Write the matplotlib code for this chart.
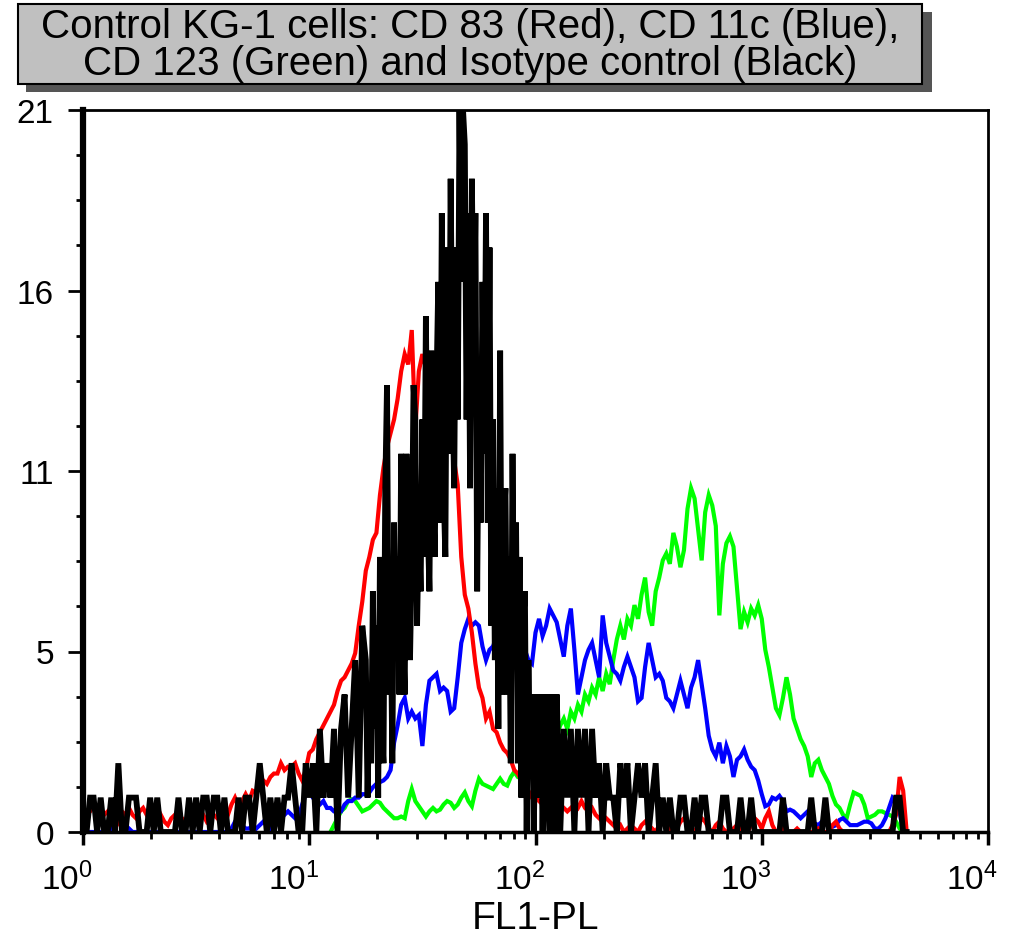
import matplotlib
matplotlib.use("Agg")
import matplotlib.pyplot as plt
import matplotlib.transforms as mtransforms
from matplotlib.patches import Rectangle
import numpy as np

plt.rcParams["font.family"] = ["Liberation Sans", "DejaVu Sans"]
plt.rcParams["mathtext.fontset"] = "custom"
plt.rcParams["mathtext.rm"] = "Liberation Sans"
plt.rcParams["mathtext.it"] = "Liberation Sans:italic"

# FL1 histogram channels: 64 channels per decade, counts per channel
CHANNELS_PER_DECADE = 64

red_cd83 = [
    0.3, 0.5, 0.6, 0.8, 0.6, 0.7, 0.5, 0.6, 0.4, 0.5,
    0.3, 0.6, 0.5, 0.7, 0.5, 0.4, 0.6, 0.7, 0.5, 0.7,
    0.4, 0.3, 0.5, 0.3, 0.2, 0.4, 0.5, 0.3, 0.4, 0.3,
    0.3, 0.2, 0.4, 0.3, 0.5, 0.3, 0.4, 0.5, 0.4, 0.6,
    0.7, 0.5, 0.8, 1.0, 0.75, 0.9, 1.1, 0.9, 1.2, 1.15,
    1.3, 1.5, 1.4, 1.6, 1.7, 1.7, 2.0, 1.8, 1.9, 1.9,
    2.0, 1.7, 1.5, 1.8, 2.3, 2.4, 2.7, 2.9, 3.1, 3.3,
    3.5, 3.7, 4.1, 4.4, 4.5, 4.7, 4.9, 5.2, 6.0, 6.7,
    7.6, 8.0, 8.5, 8.7, 9.8, 10.6, 11.2, 11.6, 12.0, 12.6,
    13.4, 13.9, 13.6, 14.6, 11.7, 13.4, 13.9, 13.5, 13.0, 13.3,
    12.6, 12.4, 12.0, 11.8, 11.4, 10.8, 10.1, 8.0, 6.9, 6.5,
    5.8, 4.9, 4.2, 3.9, 3.3, 3.5, 3.0, 2.9, 2.6, 2.4,
    2.3, 2.1, 1.8, 1.7, 1.5, 1.4, 1.2, 1.0, 1.0, 0.9,
    0.8, 0.75, 0.7, 0.6, 0.7, 0.8, 0.7, 0.6, 0.7, 0.8,
    0.7, 0.9, 0.7, 0.6, 0.7, 0.5, 0.4, 0.3, 0.4, 0.3,
    0.2, 0.1, 0.2, 0.0, 0.1, 0.2, 0.1, 0.0, 0.2, 0.3,
    0.2, 0.1, 0.0, 0.2, 0.3, 0.2, 0.1, 0.0, 0.1, 0.3,
    0.4, 0.2, 0.1, 0.0, 0.2, 0.4, 0.3, 0.1, 0.0, 0.2,
    0.3, 0.1, 0.0, 0.0, 0.1, 0.2, 0.1, 0.0, 0.0, 0.2,
    0.4, 0.3, 0.1, 0.4, 0.6, 0.2, 0.0, 0.0, 0.1, 0.0,
    0.0, 0.0, 0.1, 0.0, 0.0, 0.0, 0.0, 0.0, 0.1, 0.0,
    0.0, 0.0, 0.2, 0.3, 0.1, 0.0, 0.0, 0.0, 0.0, 0.0,
    0.0, 0.0, 0.0, 0.0, 0.0, 0.0, 0.0, 0.0, 0.0, 0.2,
    0.5, 1.6, 1.2, 0.0,
]

blue_cd11c = [
    0.0, 0.0, 0.0, 0.0, 0.0, 0.0, 0.0, 0.0, 0.1, 0.3,
    0.4, 0.3, 0.2, 0.1, 0.0, 0.0, 0.0, 0.0, 0.0, 0.0,
    0.0, 0.0, 0.0, 0.0, 0.0, 0.0, 0.0, 0.0, 0.0, 0.0,
    0.0, 0.0, 0.0, 0.0, 0.0, 0.0, 0.0, 0.0, 0.0, 0.0,
    0.0, 0.0, 0.1, 0.3, 0.4, 0.2, 0.1, 0.1, 0.2, 0.1,
    0.2, 0.3, 0.2, 0.1, 0.2, 0.3, 0.4, 0.5, 0.6, 0.5,
    0.4, 0.45, 0.8, 1.1, 1.3, 1.0, 0.9, 0.8, 0.9, 0.7,
    0.7, 0.6, 0.6, 0.6, 0.8, 0.9, 0.9, 1.0, 1.0, 1.1,
    1.1, 1.15, 1.3, 1.4, 1.45, 1.5, 1.6, 1.8, 2.6, 3.1,
    3.7, 3.9, 3.3, 3.5, 3.3, 3.4, 2.5, 3.7, 4.4, 4.5,
    4.6, 4.1, 4.2, 4.1, 3.5, 3.6, 4.5, 5.5, 5.9, 6.2,
    6.0, 6.1, 6.0, 5.4, 5.0, 5.3, 5.4, 5.7, 5.9, 5.5,
    5.2, 5.6, 5.8, 5.4, 5.0, 5.3, 5.0, 4.9, 5.8, 6.2,
    5.7, 6.0, 6.5, 6.3, 6.1, 5.6, 5.1, 6.0, 6.5, 5.3,
    4.0, 4.5, 5.0, 5.3, 5.5, 5.0, 4.5, 6.3, 5.5, 5.1,
    4.7, 4.6, 4.4, 4.8, 5.1, 4.8, 4.5, 3.8, 3.9, 4.8,
    5.5, 5.0, 4.5, 4.6, 4.4, 3.9, 3.8, 3.6, 4.0, 4.4,
    4.0, 3.6, 4.2, 4.5, 5.0, 4.3, 3.6, 2.8, 2.4, 2.2,
    2.6, 2.0, 2.5, 2.2, 1.6, 2.1, 2.2, 2.4, 2.1, 1.9,
    1.8, 1.5, 1.1, 0.75, 0.8, 1.0, 0.95, 1.05, 0.9, 0.6,
    0.65, 0.6, 0.5, 0.4, 0.5, 0.6, 0.35, 0.25, 0.2, 0.3,
    0.25, 0.15, 0.15, 0.2, 0.35, 0.4, 0.3, 0.2, 0.2, 0.2,
    0.25, 0.3, 0.3, 0.25, 0.1, 0.1, 0.2, 0.4, 0.7, 1.0,
    0.9, 0.6, 0.0, 0.0,
]

green_cd123_first_channel = 70
green_cd123 = [
    0.0, 0.2, 0.4, 0.6, 0.7, 0.9, 0.95, 0.9, 0.75, 0.6,
    0.65, 0.7, 0.8, 0.9, 0.85, 0.7, 0.6, 0.5, 0.4, 0.4,
    0.45, 0.4, 0.9, 1.25, 0.9, 0.75, 0.6, 0.45, 0.6, 0.7,
    0.6, 0.65, 0.8, 0.9, 0.85, 0.7, 0.8, 1.0, 1.15, 0.9,
    0.75, 1.2, 1.55, 1.4, 1.35, 1.3, 1.25, 1.4, 1.55, 1.4,
    1.35, 1.6, 1.75, 1.6, 1.55, 1.5, 1.6, 1.7,
    1.8, 1.9, 2.1, 2.3, 2.2, 2.5, 2.8, 3.1, 3.3, 3.0,
    3.5, 3.3, 3.7, 3.5, 4.0, 3.8, 4.2, 4.0, 4.5, 4.1,
    4.6, 4.3, 5.0, 5.6, 6.0, 5.6, 6.2, 6.0, 6.6, 6.2,
    6.9, 7.4, 6.4, 6.0, 7.0, 7.4, 7.9, 8.1, 7.8, 8.7,
    8.3, 7.7, 8.2, 9.4, 10.0, 9.7, 8.8, 7.9, 9.3, 9.8,
    9.5, 8.9, 6.3, 7.8, 8.4, 8.6, 8.3, 7.1, 5.9, 6.4,
    6.1, 6.5, 6.3, 6.6, 6.2, 5.3, 4.8, 4.2, 3.6, 3.4,
    3.9, 4.5, 4.0, 3.3, 3.0, 2.7, 2.5, 2.2, 1.6, 2.0,
    2.1, 1.8, 1.6, 1.4, 1.05, 0.8, 0.7, 0.5, 0.4, 0.8,
    1.15, 1.1, 1.05, 0.8, 0.4, 0.45, 0.5, 0.6, 0.6, 0.55,
    0.5, 0.45, 0.3, 0.1, 0.0,
]

# isotype control: coarse channels below the peak, half-width channels
# (128 per decade) across the peak, coarse channels above it
black_low = [
    0, 0, 1, 1, 0, 1, 0, 0, 1, 0,
    2, 0, 0, 1, 1, 1, 0, 0, 0, 1,
    0, 1, 0, 0, 0, 0, 0, 1, 0, 0,
    1, 0, 1, 0, 1, 1, 0, 1, 1, 0,
    1, 0, 0, 0, 1, 0, 1, 1, 0, 1,
    2, 1, 0, 1, 0, 1, 0, 1, 1, 2,
    1, 0, 0, 2, 1, 2, 0, 3, 1, 2,
    1, 3, 0, 3, 4, 1, 3, 5, 1, 6,
]
black_peak_first_fine_channel = 160
black_peak = [
    5, 1, 4, 2, 7, 3, 6, 1, 8, 3,
    2, 10, 13, 4, 7, 2, 9, 5, 8, 4,
    11, 6, 4, 11, 9, 5, 8, 13, 12, 6,
    9, 7, 12, 8, 15, 9, 7, 14, 10, 8,
    13, 16, 9, 18, 10, 8, 17, 11, 19, 13,
    10, 17, 12, 21, 16, 21, 20, 12, 18, 10,
    19, 14, 18, 7, 13, 9, 16, 11, 18, 9,
    17, 6, 12, 5, 10, 3, 14, 4, 9, 10,
    4, 8, 2, 11, 5, 9, 2, 8, 1, 6,
    7, 0, 5, 2, 4, 0, 3, 4, 1, 4,
    0, 3, 4, 1, 0, 4, 2, 0, 4,
]
black_high_first_channel = 135
black_high = [
    0, 3, 1, 3, 0,
    3, 1, 3, 0, 3, 1, 2, 0, 2, 1,
    1, 0, 2, 1, 2, 0, 1, 2, 1, 2,
    0, 1, 2, 0, 1, 0, 1, 0, 0, 1,
    1, 0, 0, 1, 0, 1, 1, 0, 0, 0,
    0, 1, 1, 0, 0, 0, 1, 0, 0, 1,
    0, 0, 0, 0, 0, 0, 0, 0, 1, 0,
    0, 0, 0, 0, 0, 0, 1, 0, 0, 0,
    1, 0, 0, 0, 0, 0, 0, 0, 0, 0,
    0, 0, 0, 0, 0, 0, 0, 0, 0, 0,
    1, 1, 0, 0,
]

y_ticks = [0, 5.25, 10.5, 15.75, 21]
y_tick_labels = ["0", "5", "11", "16", "21"]
x_decades = [0, 1, 2, 3, 4]
title_lines = [
    "Control KG-1 cells: CD 83 (Red), CD 11c (Blue),",
    "CD 123 (Green) and Isotype control (Black)",
]

W, H = 1009, 937


def fluorescence(counts, first_channel=0, per_decade=CHANNELS_PER_DECADE):
    channels = np.arange(first_channel, first_channel + len(counts))
    return 10.0 ** (channels / per_decade), np.asarray(counts, dtype=float)


def fig_xy(x, y):
    return x / W, 1 - y / H


parts = [
    fluorescence(black_low),
    fluorescence(black_peak, black_peak_first_fine_channel, 2 * CHANNELS_PER_DECADE),
    fluorescence(black_high, black_high_first_channel),
]
black_x = np.concatenate([p[0] for p in parts])
black_y = np.concatenate([p[1] for p in parts])

fig = plt.figure(figsize=(W / 100, H / 100), dpi=100)
ax = fig.add_axes([83 / W, 1 - 833 / H, (988 - 83) / W, (833 - 111) / H])

for (x, y), color in [
    (fluorescence(green_cd123, green_cd123_first_channel), "#00ff00"),
    (fluorescence(blue_cd11c), "#0000ff"),
    (fluorescence(red_cd83), "#ff0000"),
]:
    ax.plot(x, y, color=color, linewidth=3.0, solid_joinstyle="miter")
ax.plot(black_x, black_y, color="black", linewidth=4.2, solid_joinstyle="miter")

ax.set_xscale("log")
ax.set_xlim(1, 1e4)
ax.set_ylim(0, 21)

ax.set_yticks(y_ticks, y_tick_labels)
ax.set_yticks(np.arange(0, 21.01, 21 / 16), minor=True)
ax.set_xticks([10.0 ** d for d in x_decades], [rf"$10^{{{d}}}$" for d in x_decades])
ax.set_xticks([m * 10.0 ** d for d in x_decades[:-1] for m in range(2, 10)], minor=True)
ax.xaxis.set_minor_formatter(plt.NullFormatter())

ax.tick_params(axis="y", which="major", direction="out", length=11, width=2, labelsize=24, pad=10)
ax.tick_params(axis="y", which="minor", direction="out", length=5, width=2)
ax.tick_params(axis="x", which="major", direction="out", length=9, width=2.5, labelsize=24, pad=12)
ax.tick_params(axis="x", which="minor", direction="out", length=5, width=2)

# exponent labels sit with the "10" ending on the decade tick
shift = mtransforms.ScaledTranslation(-0.16, 0, fig.dpi_scale_trans)
for label in ax.get_xticklabels():
    label.set_transform(label.get_transform() + shift)

for side in ("top", "right"):
    ax.spines[side].set_linewidth(2.0)
ax.spines["bottom"].set_linewidth(2.5)
ax.spines["left"].set_linewidth(4.5)

ax.set_xlabel("FL1-PL", fontsize=28, labelpad=3)

# title box with drop shadow
x0, y0 = fig_xy(26, 93)
x1, y1 = fig_xy(932, 13)
fig.add_artist(Rectangle((x0, y0), x1 - x0, y1 - y0, transform=fig.transFigure,
                         facecolor="#555555", edgecolor="none"))
x0, y0 = fig_xy(18, 85)
x1, y1 = fig_xy(922, 5)
fig.add_artist(Rectangle((x0, y0), x1 - x0, y1 - y0, transform=fig.transFigure,
                         facecolor="#c0c0c0", edgecolor="black", linewidth=1.5))
for text, ty in zip(title_lines, (27, 64)):
    fig.text(*fig_xy(470, ty), text, ha="center", va="center", fontsize=29)

fig.savefig("out.png", dpi=100)
